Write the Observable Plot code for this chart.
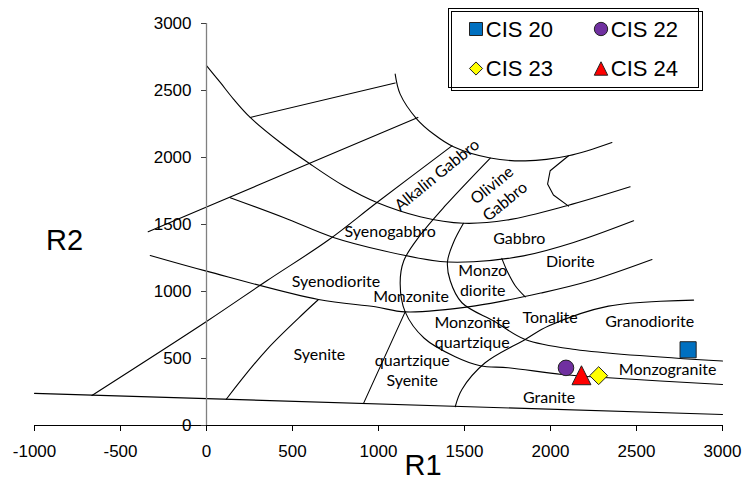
<!DOCTYPE html>
<html>
<head>
<meta charset="utf-8">
<script src="https://cdn.jsdelivr.net/npm/d3@7"></script>
<script src="https://cdn.jsdelivr.net/npm/@observablehq/plot@0.6"></script>
<style>
  html, body { margin: 0; padding: 0; background: #fff; }
  #chart { position: relative; width: 750px; height: 484px; }
</style>
</head>
<body>
<div id="chart"></div>
<script>
// R1–R2 multicationic classification diagram (De La Roche) with four samples.

const xTicks = [-1000, -500, 0, 500, 1000, 1500, 2000, 2500, 3000];
const yTicks = [0, 500, 1000, 1500, 2000, 2500, 3000];

// Samples: R1 and R2 values
const samples = ["CIS 20", "CIS 22", "CIS 23", "CIS 24"];
const sampleR1 = [2800, 2090, 2280, 2180];
const sampleR2 = [565, 430, 372, 375];

// Field boundaries, each a list of [R1, R2] vertices
const granitoidBase = [[-1000, 240], [3000, 82]];
const alkalineLimit = [[-666, 224], [0, 776], [351, 1080], [709, 1384], [991, 1664], [1427, 2087]];
const upperDiagonal = [[-339, 1446], [312, 1800], [1229, 2299]];
const topBranch = [[254, 2299], [1097, 2556]];
const olivineGabbroTop = [[1097, 2622], [1126, 2473], [1223, 2287], [1320, 2175], [1436, 2080], [1650, 1996], [1853, 1975], [2105, 2013], [2357, 2112]];
const gabbroTop = [[0, 2685], [80, 2560], [157, 2436], [254, 2299], [429, 2112], [603, 1951], [797, 1789], [991, 1664], [1242, 1558], [1494, 1509], [1747, 1533], [2095, 1640], [2463, 1781]];
const gabbroBase = [[138, 1700], [448, 1552], [738, 1403], [1029, 1304], [1359, 1224], [1552, 1222], [1843, 1266], [2134, 1366], [2483, 1528]];
const dioriteBase = [[-327, 1269], [0, 1152], [651, 940], [981, 886], [1155, 848], [1562, 893], [1950, 990], [2231, 1080], [2590, 1239]];
const syeniteWest = [[115, 196], [351, 567], [651, 940]];
const syeniteEast = [[913, 165], [1155, 848]];
const monzoniteWest = [[1650, 1996], [1388, 1640], [1240, 1416], [1147, 1229], [1126, 1058], [1155, 848], [1266, 651], [1446, 513], [1591, 446], [1754, 431], [2068, 381], [2336, 356], [3000, 306]];
const monzodioriteWest = [[1494, 1509], [1436, 1366], [1401, 1222], [1417, 1080], [1485, 916], [1678, 774], [1853, 642], [2144, 567], [3000, 481]];
const dioriteWest = [[1717, 1247], [1747, 1155], [1795, 1043], [1853, 960]];
const tonaliteEast = [[1446, 140], [1485, 269], [1620, 468], [1853, 642], [1988, 742], [2337, 891], [2832, 936]];
const olivineGabbroEast = [[2105, 2013], [1998, 1901], [1983, 1802], [2017, 1720], [2105, 1637]];

// Field names and where they sit in R1–R2 space
const fieldNames = ["Syenogabbro", "Gabbro", "Diorite", "Monzo\ndiorite", "Syenodiorite", "Monzonite",
  "Monzonite\nquartzique", "Tonalite", "Granodiorite", "Monzogranite", "Granite", "Syenite", "quartzique\nSyenite"];
const fieldR1 = [1068, 1818, 2115, 1606, 753, 1189, 1545, 1998, 2577, 2681, 1992, 656, 1196];
const fieldR2 = [1453, 1401, 1229, 1090, 1085, 973, 699, 816, 784, 423, 212, 537, 416];
const tiltedNames = ["Alkalin Gabbro", "Olivine\nGabbro"];
const tiltedR1 = [1335, 1693];
const tiltedR2 = [1877, 1740];

// Marker appearance per sample
const boxTriangle = {
  draw(context, size) {
    const h = Math.sqrt(size) / 2;
    context.moveTo(0, -h);
    context.lineTo(h, h);
    context.lineTo(-h, h);
    context.closePath();
  }
};
const markerStyle = {
  "CIS 20": {symbol: d3.symbolSquare, r: 9.1, fill: "#0070C0", legendSize: 169},
  "CIS 22": {symbol: d3.symbolCircle, r: 7.8, fill: "#7030A0", legendSize: 140},
  "CIS 23": {symbol: d3.symbolDiamond2, r: 8.1, fill: "#FFFF00", legendSize: 110},
  "CIS 24": {symbol: boxTriangle, r: 10.7, fill: "#FF0000", legendSize: 180}
};

const sampleRows = samples.map((name, i) => ({name, r1: sampleR1[i], r2: sampleR2[i]}));
const boundaries = [granitoidBase, alkalineLimit, upperDiagonal, topBranch, olivineGabbroTop, gabbroTop,
  gabbroBase, dioriteBase, syeniteWest, syeniteEast, monzoniteWest, monzodioriteWest, dioriteWest, tonaliteEast];

const labelFont = "Lato, 'Open Sans', sans-serif";

const plot = Plot.plot({
  width: 750,
  height: 484,
  marginLeft: 34,
  marginRight: 28,
  marginTop: 23,
  marginBottom: 59,
  x: {domain: [-1000, 3000], axis: null, label: null},
  y: {domain: [0, 3000], axis: null, label: null},
  style: {fontFamily: "'Liberation Sans', Arial, sans-serif", background: "#fff", color: "#000"},
  marks: [
    // field boundaries
    ...boundaries.map(pts => Plot.line(pts, {x: d => d[0], y: d => d[1], curve: "catmull-rom", stroke: "#000", strokeWidth: 1.1})),
    Plot.line(olivineGabbroEast, {x: d => d[0], y: d => d[1], curve: "linear", stroke: "#000", strokeWidth: 1.1}),
    // field names
    Plot.text(fieldNames, {x: (d, i) => fieldR1[i], y: (d, i) => fieldR2[i], text: d => d, fontFamily: labelFont, fontSize: 16, lineHeight: 1.25, fill: "#000"}),
    Plot.text(tiltedNames, {x: (d, i) => tiltedR1[i], y: (d, i) => tiltedR2[i], text: d => d, rotate: -39, fontFamily: labelFont, fontSize: 16, lineHeight: 1.3, fill: "#000"}),
    // x axis along R2 = 0
    Plot.ruleY([0], {stroke: "#000", strokeWidth: 1.2}),
    Plot.axisX(xTicks, {tickFormat: d => String(d), tickSize: 6, tickPadding: 13, fontSize: 17, stroke: "#000", label: null}),
    // y axis along R1 = 0
    Plot.ruleX([0], {y1: yTicks[0], y2: yTicks[yTicks.length - 1], stroke: "#808080", strokeWidth: 1.3}),
    Plot.ruleY(yTicks, {y: d => d, x1: 0, x2: 0, insetLeft: -5, stroke: "#404040"}),
    Plot.text(yTicks, {x: 0, y: d => d, text: d => String(d), textAnchor: "end", dx: -15, fontSize: 17}),
    // samples
    ...samples.map(name => Plot.dot(sampleRows.filter(d => d.name === name), {
      x: "r1", y: "r2", symbol: markerStyle[name].symbol, r: markerStyle[name].r,
      fill: markerStyle[name].fill, stroke: "#222", strokeWidth: 1, fillOpacity: 1
    })),
    // axis titles
    Plot.text(["R1"], {frameAnchor: "bottom", textAnchor: "middle", lineAnchor: "middle", text: d => d, dx: 44.5, dy: 40.6, fontSize: 29}),
    Plot.text(["R2"], {frameAnchor: "left", textAnchor: "middle", lineAnchor: "middle", text: d => d, dx: 30, dy: 16.6, fontSize: 29})
  ]
});
document.getElementById("chart").appendChild(plot);

// Legend box: two-column key with offset double frame
const legend = d3.select("#chart").append("svg")
  .attr("width", 750).attr("height", 484)
  .style("position", "absolute").style("left", "0px").style("top", "0px");
legend.append("rect").attr("x", 448.5).attr("y", 8.5).attr("width", 254).attr("height", 82).attr("fill", "#fff");
legend.append("rect").attr("x", 451.5).attr("y", 11.5).attr("width", 251).attr("height", 79)
  .attr("fill", "none").attr("stroke", "#000");
legend.append("rect").attr("x", 448.5).attr("y", 8.5).attr("width", 250).attr("height", 79)
  .attr("fill", "none").attr("stroke", "#000");
const cells = [[476, 29], [601, 29], [476, 68.5], [601, 68.5]];
samples.forEach((name, i) => {
  const [cx, cy] = cells[i];
  const st = markerStyle[name];
  legend.append("path")
    .attr("d", d3.symbol(st.symbol, st.legendSize)())
    .attr("transform", `translate(${cx},${cy})`)
    .attr("fill", st.fill).attr("stroke", "#222").attr("stroke-width", 1);
  legend.append("text")
    .attr("x", cx + 9.8).attr("y", cy + 7.8)
    .attr("font-family", "'Liberation Sans', Arial, sans-serif")
    .attr("font-size", 22)
    .attr("fill", "#000")
    .text(name);
});
</script>
</body>
</html>
